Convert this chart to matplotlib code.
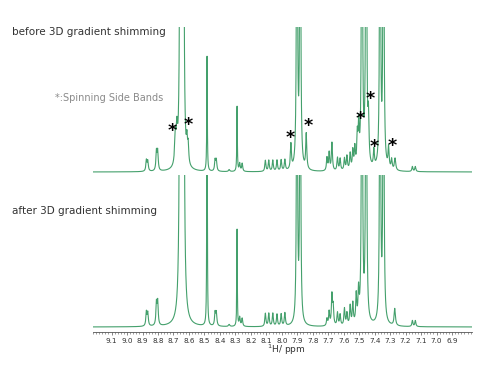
import numpy as np
import matplotlib
matplotlib.use("Agg")
import matplotlib.pyplot as plt
from matplotlib.ticker import MultipleLocator

# peak tables: position (ppm), height (px above baseline), half width (ppm)
before_ppm = [8.875, 8.866, 8.810, 8.802, 8.688, 8.678, 8.655, 8.637, 8.613, 8.605,
              8.483, 8.431, 8.423, 8.340, 8.289, 8.272, 8.256,
              8.106, 8.084, 8.058, 8.031, 8.004, 7.980,
              7.941, 7.902, 7.881, 7.842,
              7.708, 7.694, 7.676, 7.640, 7.623, 7.595, 7.579, 7.558, 7.541, 7.528,
              7.512, 7.503, 7.482, 7.455, 7.440, 7.405, 7.365, 7.343, 7.310, 7.290, 7.268,
              7.156, 7.137]
before_h = [11, 10, 19, 19, 28, 30, 900, 900, 20, 18,
            115, 11, 11, 2, 65, 8, 8,
            11, 11, 11, 11, 11, 11,
            25, 500, 500, 35,
            13, 18, 28, 13, 12, 12, 14, 16, 18, 20,
            30, 38, 555, 555, 44, 17, 500, 500, 21, 10, 12,
            5, 5]
before_w = [0.004, 0.004, 0.004, 0.004, 0.005, 0.005, 0.003, 0.003, 0.004, 0.004,
            0.002, 0.004, 0.004, 0.005, 0.002, 0.004, 0.004,
            0.004, 0.004, 0.004, 0.004, 0.004, 0.004,
            0.004, 0.003, 0.003, 0.004,
            0.004, 0.004, 0.004, 0.004, 0.004, 0.004, 0.004, 0.004, 0.004, 0.004,
            0.004, 0.004, 0.003, 0.003, 0.004, 0.004, 0.003, 0.003, 0.004, 0.004, 0.005,
            0.004, 0.004]

after_ppm = [8.875, 8.866, 8.810, 8.802, 8.655, 8.637,
             8.483, 8.431, 8.423, 8.340, 8.289, 8.272, 8.256,
             8.106, 8.084, 8.058, 8.031, 8.004, 7.980,
             7.902, 7.881,
             7.708, 7.694, 7.676, 7.668, 7.640, 7.623, 7.595, 7.579, 7.558, 7.541, 7.519, 7.504,
             7.482, 7.455, 7.365, 7.343, 7.270, 7.156, 7.137]
after_h = [14, 13, 22, 23, 1400, 1400,
           600, 13, 13, 2, 97, 9, 8,
           13, 13, 13, 12, 12, 13,
           500, 500,
           7, 14, 30, 18, 13, 11, 17, 12, 19, 21, 28, 30,
           555, 555, 500, 500, 17, 6, 6]
after_w = [0.004, 0.004, 0.004, 0.004, 0.003, 0.003,
           0.0012, 0.004, 0.004, 0.005, 0.0018, 0.004, 0.004,
           0.004, 0.004, 0.004, 0.004, 0.004, 0.004,
           0.0028, 0.0028,
           0.004, 0.004, 0.004, 0.004, 0.004, 0.004, 0.004, 0.004, 0.004, 0.004, 0.004, 0.004,
           0.003, 0.003, 0.003, 0.003, 0.005, 0.004, 0.004]

tick_values = [9.1, 9.0, 8.9, 8.8, 8.7, 8.6, 8.5, 8.4, 8.3, 8.2, 8.1, 8.0,
               7.9, 7.8, 7.7, 7.6, 7.5, 7.4, 7.3, 7.2, 7.1, 7.0, 6.9]

# asterisk positions (pixels) marking spinning side bands
star_px = [(172, 127), (188, 121), (290, 134), (308, 122),
           (360, 115), (370, 95), (374, 143), (392, 142)]

green = "#44a06c"
W, H = 500, 367


def spectrum(x, pos, hgt, wid):
    y = np.zeros_like(x)
    for p, h, w in zip(pos, hgt, wid):
        y += h * w**2 / ((x - p)**2 + w**2)
    return y


x = np.linspace(6.771, 9.22, 8000)

fig = plt.figure(figsize=(W / 100, H / 100), dpi=100)

# top spectrum (before)
ax1 = fig.add_axes([93 / W, (H - 180) / H, (472 - 93) / W, 153 / H])
ax1.plot(x, spectrum(x, before_ppm, before_h, before_w), color=green, lw=0.8)
ax1.set_xlim(9.22, 6.771)
ax1.set_ylim(-8, 145)
ax1.axis("off")

# bottom spectrum (after)
ax2 = fig.add_axes([93 / W, (H - 332) / H, (472 - 93) / W, 157 / H])
ax2.plot(x, spectrum(x, after_ppm, after_h, after_w), color=green, lw=0.8)
ax2.set_xlim(9.22, 6.771)
ax2.set_ylim(-5, 152)
for s in ["top", "left", "right"]:
    ax2.spines[s].set_visible(False)
ax2.spines["bottom"].set_color("#555555")
ax2.spines["bottom"].set_linewidth(0.6)
ax2.set_yticks([])
ax2.set_xticks(tick_values)
ax2.set_xticklabels([f"{v:.1f}" for v in tick_values])
ax2.xaxis.set_minor_locator(MultipleLocator(0.02))
ax2.tick_params(axis="x", which="major", length=2.5, width=0.5, color="#555555",
                labelsize=5.2, labelcolor="#333333", pad=1.5)
ax2.tick_params(axis="x", which="minor", length=1.5, width=0.4, color="#555555")

fig.text(286 / W, 1 - 350 / H, "$^{1}$H/ ppm", ha="center", va="center",
         fontsize=6.5, color="#333333")

fig.text(12 / W, 1 - 32 / H, "before 3D gradient shimming", ha="left", va="center",
         fontsize=7.5, color="#333333")
fig.text(12 / W, 1 - 211 / H, "after 3D gradient shimming", ha="left", va="center",
         fontsize=7.5, color="#333333")
fig.text(55 / W, 1 - 98 / H, "*:Spinning Side Bands", ha="left", va="center",
         fontsize=7, color="#8a8a8a")

for sx, sy in star_px:
    fig.text(sx / W, 1 - (sy + 4) / H, "*", ha="center", va="center",
             fontsize=12.5, fontweight="bold", color="black")

fig.savefig("out.png", dpi=100)
